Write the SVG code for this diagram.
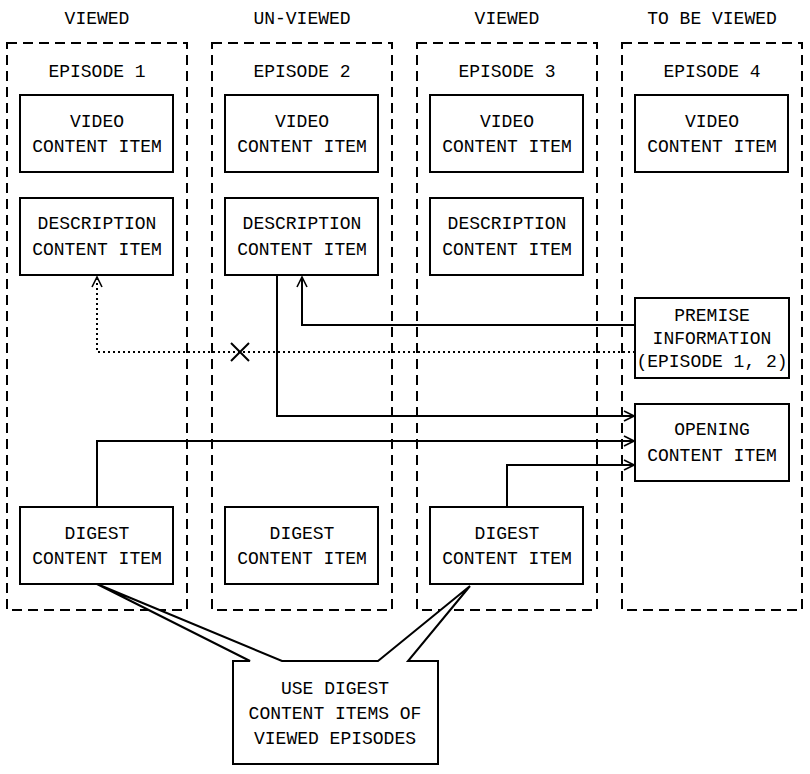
<svg xmlns="http://www.w3.org/2000/svg" width="810" height="774" viewBox="0 0 810 774">
<style>
text{font-family:"Liberation Mono","DejaVu Sans Mono",monospace;font-size:18px;text-anchor:middle;fill:#000}
.col{fill:none;stroke:#000;stroke-width:2;stroke-dasharray:10,6}
.box{fill:#fff;stroke:#000;stroke-width:2}
.ln{fill:none;stroke:#000;stroke-width:2}
.dot{fill:none;stroke:#000;stroke-width:2;stroke-dasharray:2,3}
</style>
<defs>
<marker id="a" viewBox="0 0 12 12" refX="11" refY="6" markerWidth="12" markerHeight="12" markerUnits="userSpaceOnUse" orient="auto"><path d="M1,1 L11,6 L1,11" fill="none" stroke="#000" stroke-width="1.6"/></marker>
</defs>
<rect fill="#fff" width="810" height="774"/>
<g id="headers">
<text x="97" y="24">VIEWED</text><text x="302" y="24">UN-VIEWED</text><text x="507" y="24">VIEWED</text><text x="712" y="24">TO BE VIEWED</text>
</g>
<g id="ep1"><rect class="col" x="7" y="43" width="180" height="567"/><text x="97" y="77">EPISODE 1</text></g>
<g id="ep2"><rect class="col" x="212" y="43" width="180" height="567"/><text x="302" y="77">EPISODE 2</text></g>
<g id="ep3"><rect class="col" x="417" y="43" width="180" height="567"/><text x="507" y="77">EPISODE 3</text></g>
<g id="ep4"><rect class="col" x="622" y="43" width="180" height="567"/><text x="712" y="77">EPISODE 4</text></g>
<g id="connectors">
<polyline class="ln" points="635,325 302,325 302,277" marker-end="url(#a)"/>
<polyline class="dot" points="635,352 97,352 97,277" marker-end="url(#a)"/>
<path class="ln" d="M231,343 L249,361 M249,343 L231,361"/>
<polyline class="ln" points="277,276 277,416 634,416" marker-end="url(#a)"/>
<polyline class="ln" points="97,507 97,441 634,441" marker-end="url(#a)"/>
<polyline class="ln" points="507,507 507,465 634,465" marker-end="url(#a)"/>
</g>
<g id="v1"><rect class="box" x="20" y="95" width="153" height="77"/><text x="97" y="127">VIDEO</text><text x="97" y="152">CONTENT ITEM</text></g>
<g id="v2"><rect class="box" x="225" y="95" width="153" height="77"/><text x="302" y="127">VIDEO</text><text x="302" y="152">CONTENT ITEM</text></g>
<g id="v3"><rect class="box" x="430" y="95" width="153" height="77"/><text x="507" y="127">VIDEO</text><text x="507" y="152">CONTENT ITEM</text></g>
<g id="v4"><rect class="box" x="635" y="95" width="153" height="77"/><text x="712" y="127">VIDEO</text><text x="712" y="152">CONTENT ITEM</text></g>
<g id="d1"><rect class="box" x="20" y="198" width="153" height="77"/><text x="97" y="229">DESCRIPTION</text><text x="97" y="255">CONTENT ITEM</text></g>
<g id="d2"><rect class="box" x="225" y="198" width="153" height="77"/><text x="302" y="229">DESCRIPTION</text><text x="302" y="255">CONTENT ITEM</text></g>
<g id="d3"><rect class="box" x="430" y="198" width="153" height="77"/><text x="507" y="229">DESCRIPTION</text><text x="507" y="255">CONTENT ITEM</text></g>
<g id="premise"><rect class="box" x="635" y="298" width="154" height="80"/><text x="712" y="321">PREMISE</text><text x="712" y="344">INFORMATION</text><text x="712" y="367">(EPISODE 1, 2)</text></g>
<g id="opening"><rect class="box" x="635" y="404" width="154" height="77"/><text x="712" y="435">OPENING</text><text x="712" y="461">CONTENT ITEM</text></g>
<g id="g1"><rect class="box" x="20" y="507" width="153" height="77"/><text x="97" y="539">DIGEST</text><text x="97" y="564">CONTENT ITEM</text></g>
<g id="g2"><rect class="box" x="225" y="507" width="153" height="77"/><text x="302" y="539">DIGEST</text><text x="302" y="564">CONTENT ITEM</text></g>
<g id="g3"><rect class="box" x="430" y="507" width="153" height="77"/><text x="507" y="539">DIGEST</text><text x="507" y="564">CONTENT ITEM</text></g>
<g id="callout">
<path class="box" d="M233,661 L250,661 L97,584 L282,661 L378,661 L470,586 L408,661 L438,661 L438,764 L233,764 Z" stroke-linejoin="miter"/>
<text x="335" y="694">USE DIGEST</text><text x="335" y="719">CONTENT ITEMS OF</text><text x="335" y="744">VIEWED EPISODES</text>
</g>
</svg>
